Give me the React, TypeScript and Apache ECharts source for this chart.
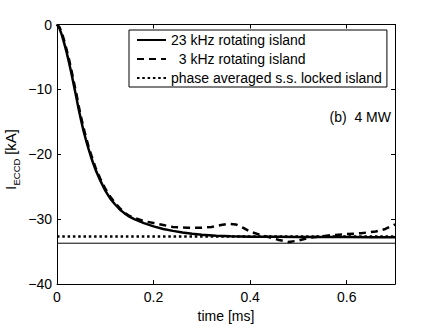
import React, { useEffect, useRef } from "react";
import * as echarts from "echarts";

const FONT = "'Liberation Sans', Arial, Helvetica, sans-serif";

const solidName = "23 kHz rotating island";
const dashedName = "  3 kHz rotating island";
const dottedName = "phase averaged s.s. locked island";

const solidTimes = [0, 0.005, 0.01, 0.015, 0.02, 0.025, 0.03, 0.035, 0.04, 0.045, 0.05, 0.055, 0.06, 0.065, 0.07, 0.075, 0.08, 0.09, 0.1, 0.11, 0.12, 0.13, 0.14, 0.15, 0.16, 0.18, 0.2, 0.22, 0.24, 0.26, 0.28, 0.3, 0.33, 0.36, 0.4, 0.45, 0.5, 0.55, 0.6, 0.65, 0.7];
const solidVals = [0, -0.6, -1.6, -2.9, -4.3, -5.9, -7.6, -9.4, -11.2, -13.1, -14.8, -16.4, -17.8, -19.1, -20.3, -21.4, -22.4, -24.1, -25.6, -26.8, -27.7, -28.5, -29.1, -29.6, -30.0, -30.6, -31.1, -31.5, -31.8, -32.05, -32.25, -32.4, -32.55, -32.62, -32.7, -32.72, -32.75, -32.75, -32.75, -32.78, -32.8];

const dashedTimes = [0, 0.005, 0.01, 0.015, 0.02, 0.025, 0.03, 0.035, 0.04, 0.045, 0.05, 0.055, 0.06, 0.065, 0.07, 0.075, 0.08, 0.09, 0.1, 0.11, 0.12, 0.13, 0.14, 0.15, 0.16, 0.18, 0.2, 0.22, 0.24, 0.27, 0.3, 0.32, 0.34, 0.355, 0.37, 0.385, 0.4, 0.42, 0.44, 0.46, 0.48, 0.5, 0.52, 0.54, 0.57, 0.6, 0.63, 0.66, 0.68, 0.7];
const dashedVals = [0, -0.4, -1.3, -2.5, -3.9, -5.4, -7.1, -8.9, -10.6, -12.6, -14.3, -15.9, -17.4, -18.7, -19.9, -21.0, -22.1, -23.8, -25.3, -26.5, -27.5, -28.3, -29.0, -29.5, -29.8, -30.3, -30.6, -30.9, -31.2, -31.3, -31.3, -31.2, -30.9, -30.7, -30.8, -31.3, -31.9, -32.4, -32.8, -33.2, -33.5, -33.3, -32.9, -32.7, -32.45, -32.3, -32.15, -31.9, -31.5, -30.8];

const lockedLevel = -32.65;
const thinLevel = -33.7;
const tRange = [0, 0.7];
const yRange = [-40, 0];

const minus = (v: number) => String(v).replace("-", "\u2212");

export default function App() {
  const ref = useRef<HTMLDivElement>(null);
  useEffect(() => {
    document.body.style.margin = "0";
    const chart = echarts.init(ref.current!, null, { renderer: "svg" });
    const pair = (ts: number[], vs: number[]) => ts.map((t, i) => [t, vs[i]]);
    const axisCommon = {
      type: "value" as const,
      axisLine: { show: true, onZero: false, lineStyle: { color: "#000", width: 1 } },
      axisTick: { show: true, inside: true, length: 4, lineStyle: { color: "#000", width: 1 } },
      splitLine: { show: false },
    };
    const labelStyle = { fontSize: 14, color: "#000", fontFamily: FONT };
    chart.setOption({
      animation: false,
      backgroundColor: "#fff",
      grid: { left: 57, right: 41, top: 24.5, bottom: 38, containLabel: false },
      legend: {
        data: [solidName, dashedName, dottedName],
        orient: "vertical",
        left: 129,
        top: 30,
        itemWidth: 29,
        itemHeight: 14,
        itemGap: 5,
        padding: [3, 5, 2, 7],
        borderColor: "#000",
        borderWidth: 1,
        backgroundColor: "#fff",
        itemStyle: { opacity: 0 },
        textStyle: { ...labelStyle, lineHeight: 14 },
        selectedMode: false,
      },
      xAxis: [
        {
          ...axisCommon,
          position: "bottom",
          min: tRange[0],
          max: tRange[1],
          interval: 0.2,
          axisLabel: {
            ...labelStyle,
            margin: 6,
            formatter: (v: number) => (Math.abs(v * 5 - Math.round(v * 5)) < 1e-6 ? String(Math.round(v * 10) / 10) : ""),
          },
          name: "time [ms]",
          nameLocation: "middle",
          nameGap: 22,
          nameTextStyle: { ...labelStyle, verticalAlign: "top" },
        },
        {
          ...axisCommon,
          position: "top",
          min: tRange[0],
          max: tRange[1],
          interval: 0.2,
          axisLabel: { show: false },
        },
      ],
      yAxis: [
        {
          ...axisCommon,
          position: "left",
          min: yRange[0],
          max: yRange[1],
          interval: 10,
          axisLabel: { ...labelStyle, margin: 5, formatter: (v: number) => minus(v) },
        },
        {
          ...axisCommon,
          position: "right",
          min: yRange[0],
          max: yRange[1],
          interval: 10,
          axisLabel: { show: false },
        },
      ],
      graphic: [
        {
          type: "group",
          x: 10,
          y: 190,
          rotation: Math.PI / 2,
          children: [
            { type: "text", x: 0, y: 0, style: { text: "I", font: `15px ${FONT}`, fill: "#000", align: "left", verticalAlign: "middle" } },
            { type: "text", x: 4.5, y: 6, style: { text: "ECCD", font: `9.5px ${FONT}`, fill: "#000", align: "left", verticalAlign: "middle" } },
            { type: "text", x: 31, y: 0, style: { text: " [kA]", font: `15px ${FONT}`, fill: "#000", align: "left", verticalAlign: "middle" } },
          ],
        },
        {
          type: "text",
          x: 391,
          y: 117,
          style: { text: "(b)  4 MW", font: `14px ${FONT}`, fill: "#000", align: "right", verticalAlign: "middle" },
        },
      ],
      series: [
        {
          name: "thin",
          type: "line",
          symbol: "none",
          data: [[tRange[0], thinLevel], [tRange[1], thinLevel]],
          lineStyle: { color: "#000", width: 1 },
          silent: true,
        },
        {
          name: dottedName,
          type: "line",
          symbol: "none",
          data: [[tRange[0], lockedLevel], [tRange[1], lockedLevel]],
          lineStyle: { color: "#000", width: 2.5, type: [2.5, 2.8], cap: "butt" },
          itemStyle: { color: "#000" },
        },
        {
          name: dashedName,
          type: "line",
          symbol: "none",
          data: pair(dashedTimes, dashedVals),
          lineStyle: { color: "#000", width: 2.5, type: [7, 5] },
          itemStyle: { color: "#000" },
        },
        {
          name: solidName,
          type: "line",
          symbol: "none",
          data: pair(solidTimes, solidVals),
          lineStyle: { color: "#000", width: 2.5 },
          itemStyle: { color: "#000" },
        },
      ],
    });
    return () => chart.dispose();
  }, []);
  return <div ref={ref} style={{ width: 436, height: 328 }} />;
}
